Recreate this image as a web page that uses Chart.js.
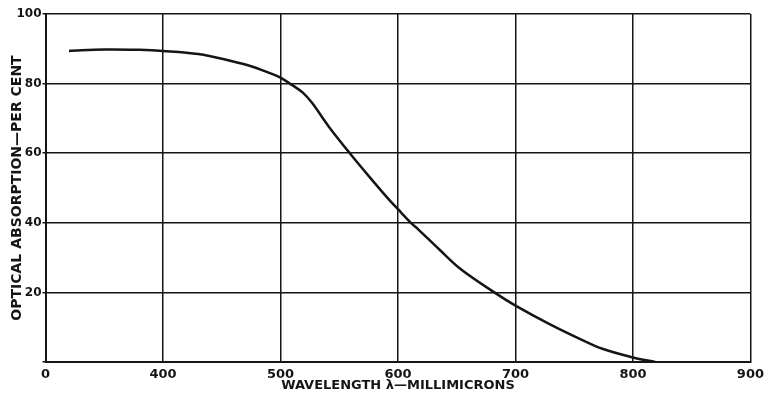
<!DOCTYPE html>
<html>
<head>
<meta charset="utf-8">
<script src="https://cdn.jsdelivr.net/npm/chart.js@4/dist/chart.umd.min.js"></script>
<style>
  html, body { margin: 0; padding: 0; background: #fff; }
  #wrap { width: 769px; height: 395px; }
</style>
</head>
<body>
<div id="wrap"><canvas id="grafico" width="769" height="395"></canvas></div>
<script>
// wavelength in millimicrons, optical absorption in per cent
const wavelength = [320, 350, 380, 400, 430, 458, 475, 491, 500, 508, 519, 527, 541, 559, 575, 592, 600, 611, 617, 635, 653, 682, 700, 729, 757, 774, 800, 819];
const absorption = [89.4, 89.8, 89.7, 89.4, 88.5, 86.5, 85.0, 83.0, 81.7, 80.0, 77.4, 74.4, 67.7, 60.0, 53.5, 46.8, 43.9, 40.0, 38.2, 32.4, 26.8, 20.0, 16.2, 10.9, 6.3, 3.8, 1.3, 0];
const xTicks = [300, 400, 500, 600, 700, 800, 900];
const yTicks = [0, 20, 40, 60, 80, 100];

const pontos = wavelength.map((w, i) => ({ x: w, y: absorption[i] }));
const tinta = '#151515';

const ctx = document.getElementById('grafico').getContext('2d');
const grafico = new Chart(ctx, {
  type: 'line',
  data: {
    datasets: [{
      data: pontos,
      borderColor: tinta,
      borderWidth: 2.5,
      pointRadius: 0,
      fill: false,
      tension: 0.35
    }]
  },
  options: {
    responsive: false,
    animation: false,
    layout: { autoPadding: false, padding: { top: 14, right: 17, left: 0, bottom: 0 } },
    plugins: { legend: { display: false }, tooltip: { enabled: false } },
    scales: {
      x: {
        type: 'linear',
        min: 300,
        max: 900,
        afterBuildTicks: s => { s.ticks = xTicks.map(v => ({ value: v })); },
        afterFit: s => { s.height = 33; },
        ticks: {
          color: tinta,
          padding: 5,
          maxRotation: 0,
          font: { family: 'DejaVu Sans', size: 13, weight: 'bold' },
          callback: v => (v === 300 ? '0' : String(v))
        },
        grid: { color: tinta, lineWidth: 1.5, drawTicks: false },
        border: { color: tinta, width: 2 },
        title: {
          display: true,
          text: 'WAVELENGTH λ—MILLIMICRONS',
          color: tinta,
          font: { family: 'DejaVu Sans', size: 13, weight: 'bold' },
          padding: { top: 2, bottom: 2 }
        }
      },
      y: {
        min: 0,
        max: 100,
        afterBuildTicks: s => { s.ticks = yTicks.map(v => ({ value: v })); },
        afterFit: s => { s.width = 45.5; },
        ticks: {
          color: tinta,
          padding: 1,
          font: { family: 'DejaVu Sans', size: 12, weight: 'bold' },
          callback: v => (v === 0 ? '' : String(v))
        },
        grid: { color: tinta, lineWidth: 1.5, tickLength: 3 },
        border: { color: tinta, width: 2 },
        title: {
          display: true,
          text: 'OPTICAL ABSORPTION—PER CENT',
          color: tinta,
          font: { family: 'DejaVu Sans', size: 14, weight: 'bold' },
          padding: { top: 9, bottom: 9 }
        }
      }
    }
  }
});
</script>
</body>
</html>
